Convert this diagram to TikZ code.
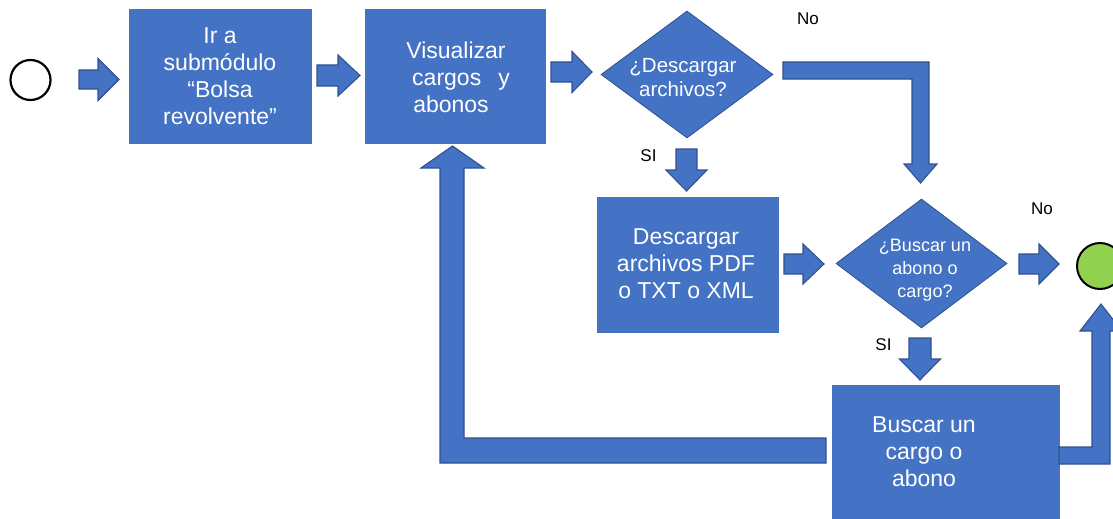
\documentclass[tikz,border=0pt]{standalone}
\usepackage{fontspec}
\setmainfont{Liberation Sans}
\usetikzlibrary{shapes.geometric}
\definecolor{blu}{HTML}{4472C4}
\definecolor{blud}{HTML}{2F528F}
\definecolor{grn}{HTML}{92D050}
% right-pointing block arrow: x0 yc headx tipx shafthalf headhalf
\newcommand\RArrowShape[6]{%
  \draw[barrow] (#1,#2-#5) -- (#3,#2-#5) -- (#3,#2-#6) -- (#4,#2) -- (#3,#2+#6) -- (#3,#2+#5) -- (#1,#2+#5) -- cycle;}
% down-pointing block arrow: xc y0 heady tipy shafthalf headhalf
\newcommand\DArrowShape[6]{%
  \draw[barrow] (#1-#5,#2) -- (#1+#5,#2) -- (#1+#5,#3) -- (#1+#6,#3) -- (#1,#4) -- (#1-#6,#3) -- (#1-#5,#3) -- cycle;}
\tikzset{
  box/.style={rectangle, fill=blu, draw=blu, line width=0.5pt, inner sep=0pt},
  dia/.style={diamond, fill=blu, draw=blud, line width=0.8pt, inner sep=0pt},
  btext/.style={text=white, align=center, inner sep=0pt, font=\fontsize{23}{27}\selectfont},
  dtext/.style={text=white, align=center, inner sep=0pt},
  lbl/.style={text=black, inner sep=0pt, anchor=base, font=\fontsize{17}{20}\selectfont},
  barrow/.style={fill=blu, draw=blud, line width=1.1pt, line join=miter},
  startev/.style={circle, draw=black, fill=white, line width=2.2pt, inner sep=0pt, minimum size=40pt},
  endev/.style={circle, draw=black, fill=grn, line width=2pt, inner sep=0pt, minimum size=46pt}
}
\begin{document}
\begin{tikzpicture}[x=1pt,y=-1pt]
\useasboundingbox (0,0) rectangle (1113,519);
\clip (0,0) rectangle (1113,519);

% events
\node[startev] (start) at (30.5,80) {};
\node[endev] (end) at (1100,266) {};

% boxes
\node[box, minimum width=182pt, minimum height=134pt] (b1) at (220,76) {};
\node[box, minimum width=180pt, minimum height=134pt] (b2) at (455,76) {};
\node[box, minimum width=181pt, minimum height=135pt] (b3) at (687.5,264.5) {};
\node[box, minimum width=227pt, minimum height=135pt] (b4) at (945.5,452.5) {};

% decisions
\node[dia, minimum width=172pt, minimum height=127pt] (d1) at (687,74.5) {};
\node[dia, minimum width=171pt, minimum height=129pt] (d2) at (921.5,263.5) {};

% texts
\node[btext] (t1) at (220,76.3) {Ir a\\submódulo\\“Bolsa\\revolvente”};
\node[btext] (t2) at (456,76.8) {Visualizar\\\hspace*{10pt}cargos\hspace{17pt}y\\abonos\hspace*{10pt}};
\node[btext] (t3) at (686,263.8) {Descargar\\archivos PDF\\o TXT o XML};
\node[btext] (t4) at (924,451.8) {Buscar un\\cargo o\\abono};
\node[dtext, font=\fontsize{20.5}{24.5}\selectfont] (td1) at (683,77.7) {¿Descargar\\archivos?};
\node[dtext, font=\fontsize{18}{23}\selectfont] (td2) at (925,270.5) {¿Buscar un\\abono o\\cargo?};

% labels
\node[lbl] (no1) at (808,25) {No};
\node[lbl] (no2) at (1042,214) {No};
\node[lbl] (si1) at (648.5,161) {SI};
\node[lbl] (si2) at (883.5,350) {SI};

% straight block arrows
\RArrowShape{79}{79.5}{98}{119}{9.5}{21}
\RArrowShape{317}{75.5}{338}{360}{10.5}{20.5}
\RArrowShape{551}{72}{572}{592}{10}{20.5}
\RArrowShape{784}{264}{803}{824}{10}{20}
\RArrowShape{1019}{264}{1039}{1059}{10}{20}
\DArrowShape{686.5}{149}{170}{191}{10.5}{20.5}
\DArrowShape{920}{338}{359}{380}{11}{20.5}

% bent block arrows
\draw[barrow] (783,62) -- (929,62) -- (929,164) -- (937,164) -- (920.5,183)
  -- (904,164) -- (912,164) -- (912,79) -- (783,79) -- cycle;
\draw[barrow] (826,438) -- (464,438) -- (464,168) -- (484,168) -- (452.5,146)
  -- (421,168) -- (440,168) -- (440,463) -- (826,463) -- cycle;
\draw[barrow] (1059,447) -- (1092,447) -- (1092,331) -- (1080,331) -- (1101,304)
  -- (1122,331) -- (1110,331) -- (1110,464) -- (1059,464) -- cycle;
\end{tikzpicture}
\end{document}
